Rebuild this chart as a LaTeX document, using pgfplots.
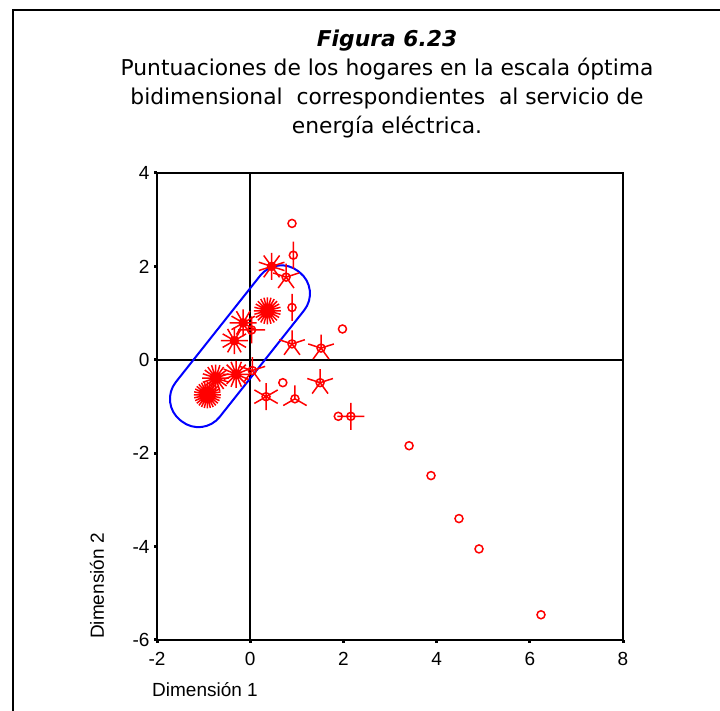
\documentclass[border=0pt]{standalone}
\usepackage{fontspec}
\setmainfont{Liberation Sans}
\newfontfamily\titlefont{DejaVu Sans}
\usepackage{pgfplots}
\pgfplotsset{compat=1.18}

\pgfdeclareplotmark{sun0}{%
  \pgfpathcircle{\pgfpointorigin}{4pt}\pgfusepathqstroke}
\newcommand\declaresun[1]{%
 \pgfdeclareplotmark{sun#1}{%
  \pgfpathcircle{\pgfpointorigin}{4pt}%
  \pgfplotsforeachungrouped \k in {1,...,#1}{%
    \pgfmathsetmacro\ang{90+360*(\k-1)/#1}%
    \pgfpathmoveto{\pgfpointorigin}%
    \pgfpathlineto{\pgfpointpolar{\ang}{13.5pt}}}%
  \pgfusepathqstroke}}
\declaresun{2}\declaresun{3}\declaresun{4}\declaresun{5}\declaresun{6}
\declaresun{10}\declaresun{12}\declaresun{16}\declaresun{20}\declaresun{24}\declaresun{28}

\begin{document}
\begin{tikzpicture}
\useasboundingbox (0pt,0pt) rectangle (720pt,711pt);
\draw[line width=2pt] (13pt,0pt) -- (13pt,701pt) -- (720pt,701pt);
\node[align=center, font=\titlefont\fontsize{21.8}{29}\selectfont] at (387pt,627pt)
 {\textbf{\textit{Figura 6.23}}\\
  Puntuaciones de los hogares en la escala óptima\\
  bidimensional\ \ correspondientes\ \ al servicio de\\
  energía eléctrica.};
\begin{axis}[at={(157pt,71pt)}, anchor=south west, scale only axis,
  width=466pt, height=467pt,
  xmin=-2, xmax=8, ymin=-6, ymax=4,
  xtick={-2,0,2,4,6,8}, ytick={-6,-4,-2,0,2,4},
  xtick pos=bottom, ytick pos=left,
  tick align=outside, major tick length=3pt,
  tick style={line width=3pt, black},
  axis line style={line width=1.5pt},
  ticklabel style={font=\fontsize{19}{22}\selectfont},
  xticklabel style={yshift=-6pt},
  yticklabel style={xshift=-1pt},
  /pgf/number format/assume math mode=true,
  clip=false]
\draw[line width=1.5pt] (axis cs:0,-6) -- (axis cs:0,4);
\draw[line width=1.5pt] (axis cs:-2,0) -- (axis cs:8,0);
\draw[line width=2.5pt] (rel axis cs:0,0) -- (rel axis cs:1,0);
\draw[line width=2pt] (rel axis cs:0,0) -- (rel axis cs:0,1);
\pgfplotsset{every axis plot/.append style={only marks, red, mark options={red, line width=1.5pt}}}
\addplot[mark=sun0] coordinates {(0.897,2.92) (1.98,0.66) (0.70,-0.49) (1.89,-1.21) (3.41,-1.84) (3.88,-2.48) (4.48,-3.40) (4.91,-4.05) (6.24,-5.46)};
\addplot[mark=sun2] coordinates {(0.925,2.24) (0.897,1.12)};
\addplot[mark=sun3] coordinates {(0.96,-0.835)};
\addplot[mark=sun4] coordinates {(2.16,-1.21) (0.03,0.64)};
\addplot[mark=sun5] coordinates {(0.77,1.77) (0.897,0.34) (1.52,0.25) (1.50,-0.49) (0.045,-0.23)};
\addplot[mark=sun6] coordinates {(0.34,-0.79)};
\addplot[mark=sun10] coordinates {(0.46,2.0)};
\addplot[mark=sun12] coordinates {(-0.15,0.79) (-0.34,0.41)};
\addplot[mark=sun16] coordinates {(-0.30,-0.31)};
\addplot[mark=sun20] coordinates {(-0.74,-0.39)};
\addplot[mark=sun24] coordinates {(0.37,1.05)};
\addplot[mark=sun28] coordinates {(-0.92,-0.75)};
\node[draw=blue, line width=2pt, rotate=51.6, minimum width=190pt, minimum height=56pt,
  rounded corners=27pt, inner sep=0pt] at (axis cs:-0.22,0.29) {};
\end{axis}
\node[rotate=90, anchor=west, inner sep=0pt, font=\fontsize{19}{22}\selectfont] at (97pt,72pt) {Dimensión 2};
\node[anchor=west, font=\fontsize{19}{22}\selectfont, inner sep=0pt] at (152pt,21pt) {Dimensión 1};
\end{tikzpicture}
\end{document}
